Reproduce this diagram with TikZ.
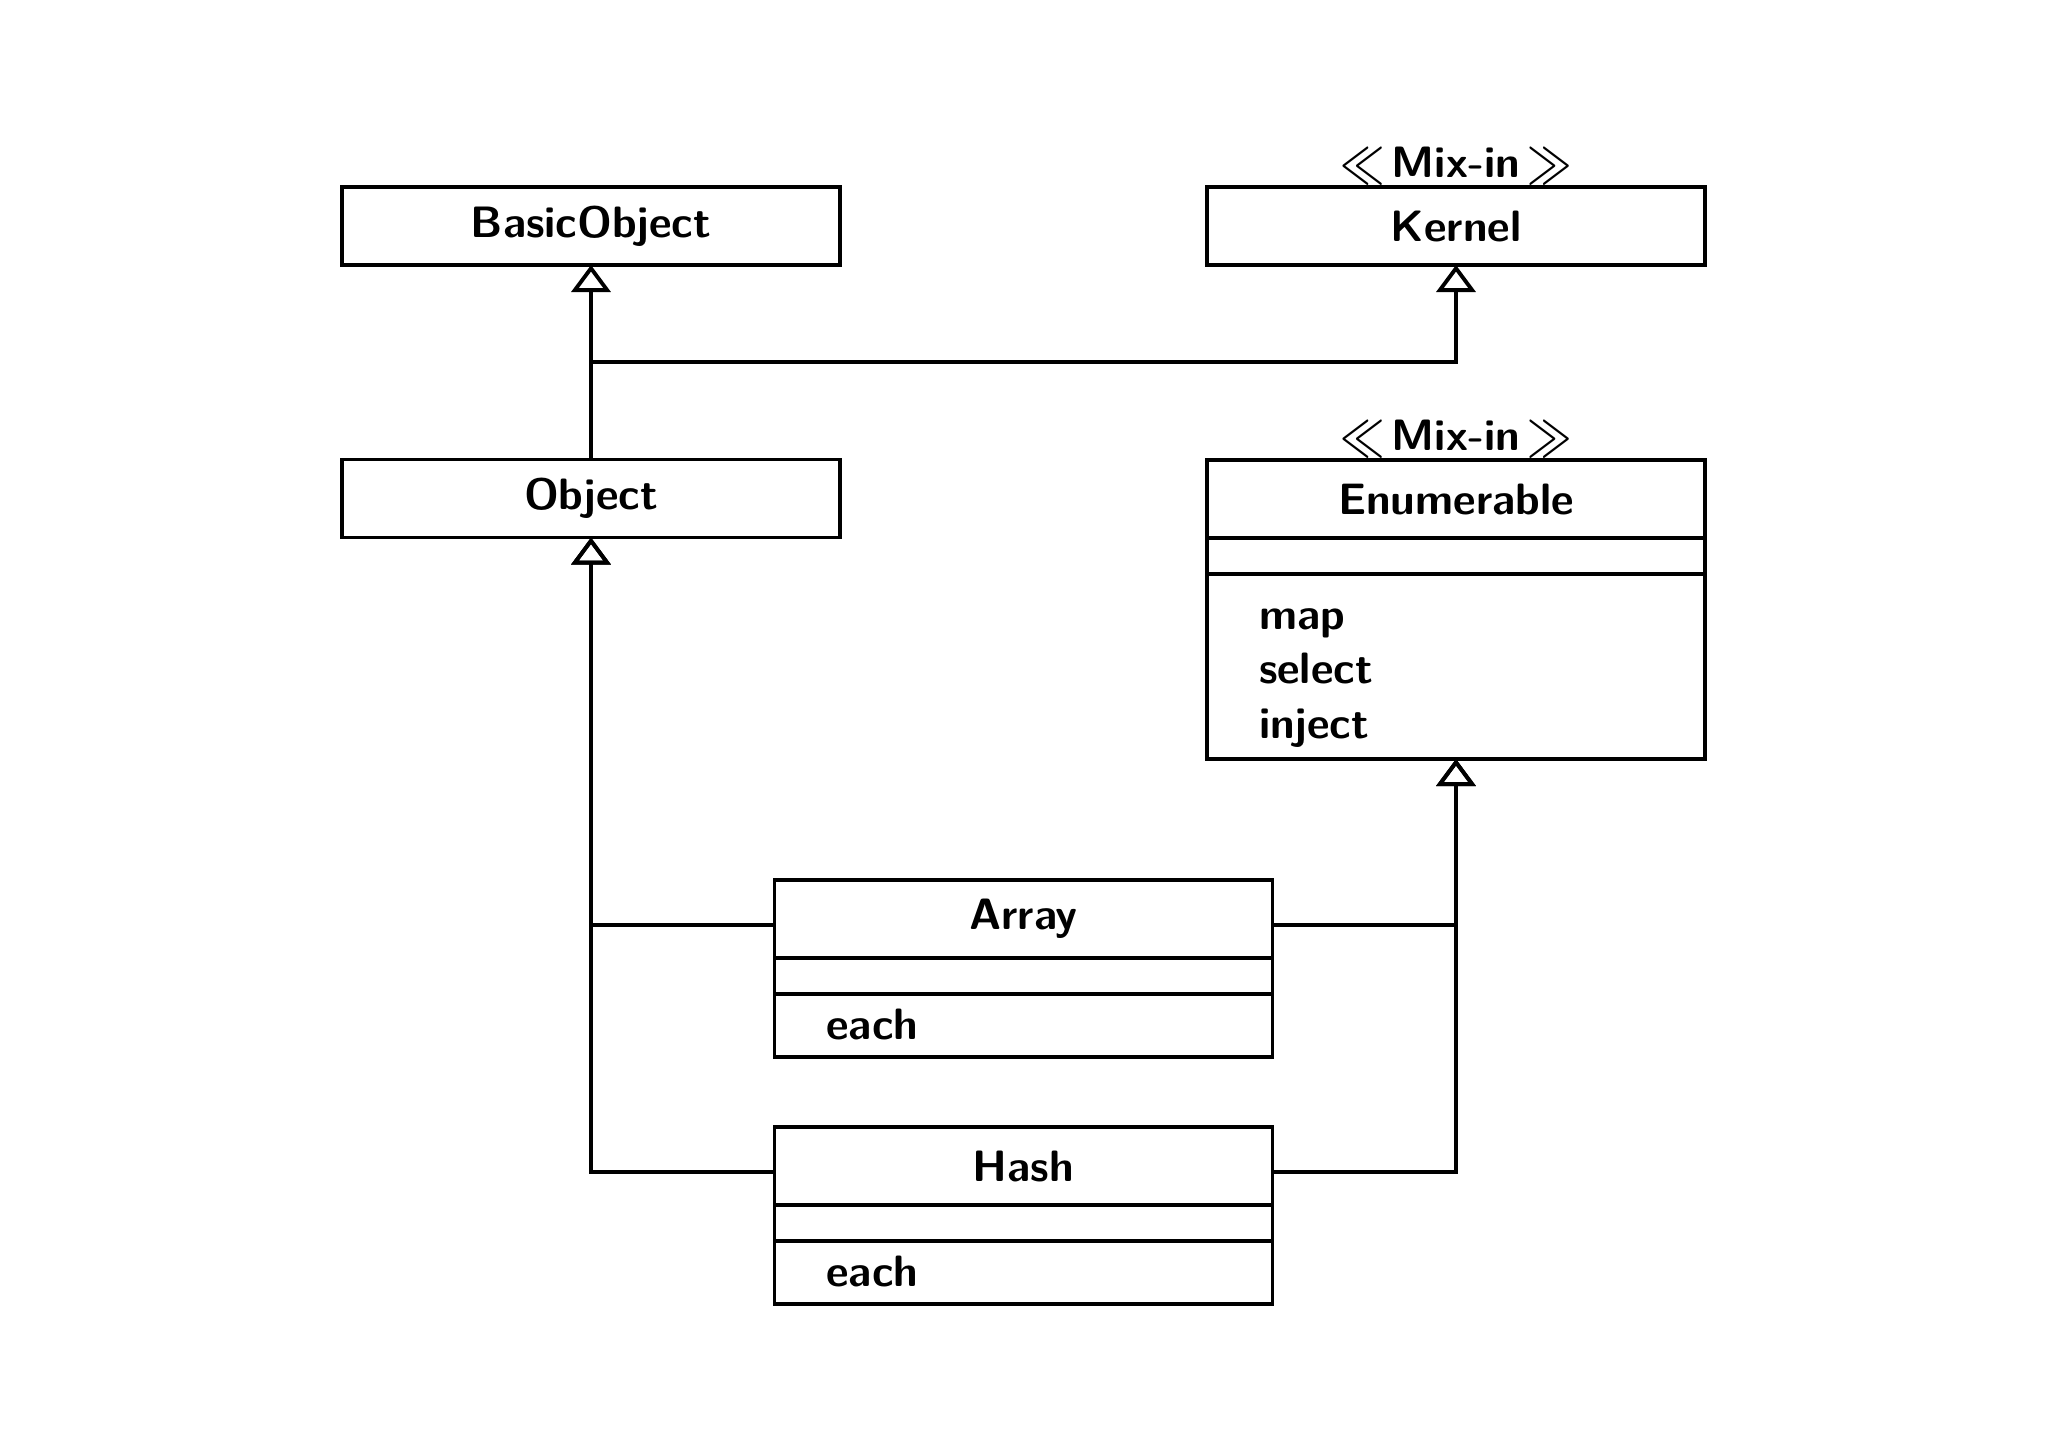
\documentclass[tikz,border=0pt]{standalone}
\usetikzlibrary{positioning,arrows.meta,calc}

\newcommand{\stereotype}[1]{$\vcenter{\hbox{\scalebox{1.05}[1.45]{$\ll$}}}$\,#1\,$\vcenter{\hbox{\scalebox{1.05}[1.45]{$\gg$}}}$}

\begin{document}
\begin{tikzpicture}[
  every node/.style={font=\sffamily\bfseries\fontsize{12.5}{15.6}\selectfont},
  classbox/.style={draw, line width=1.1pt, outer sep=0pt},
  classhead/.style={classbox, minimum width=4.98cm, minimum height=0.78cm, inner sep=0pt},
  classattr/.style={classbox, minimum width=4.98cm, minimum height=0.36cm, inner sep=0pt},
  classops/.style={classbox, text width=3.94cm, inner xsep=0.52cm, inner ysep=0pt, align=left},
  stereo/.style={inner sep=0pt},
  inherit/.style={line width=1.1pt, -{Triangle[open, length=0.27cm, width=0.39cm]}}
]
\useasboundingbox (0,0) rectangle (20.48,-14.48);

% classes
\node[classhead] (basicobject) at (5.91,-2.26) {BasicObject};
\node[classhead] (kernel) at (14.56,-2.26) {Kernel};
\node[stereo, above=0.1cm of kernel, anchor=base] (kernelstereo) {\stereotype{Mix-in}};

\node[classhead] (object) at (5.91,-4.985) {Object};

\node[classhead] (enumerable) at (14.56,-4.99) {Enumerable};
\node[stereo, above=0.1cm of enumerable, anchor=base] (enumstereo) {\stereotype{Mix-in}};
\node[classattr, below=0pt of enumerable] (enumattr) {};
\node[classops, text height=0.55cm, text depth=1.30cm, below=0pt of enumattr] (enumops) {map\\select\\inject};

\node[classhead] (array) at (10.235,-9.19) {Array};
\node[classattr, below=0pt of array] (arrayattr) {};
\node[classops, text height=0.45cm, text depth=0.18cm, below=0pt of arrayattr] (arrayops) {each};

\node[classhead] (hash) at (10.235,-11.66) {Hash};
\node[classattr, below=0pt of hash] (hashattr) {};
\node[classops, text height=0.45cm, text depth=0.18cm, below=0pt of hashattr] (hashops) {each};

% inheritance
\draw[inherit] (object.north) -- (basicobject.south);
\draw[inherit] ($(object.north)!0.5!(basicobject.south)$) -| (kernel.south);
\draw[inherit] ([yshift=-0.06cm]array.west) -| (object.south);
\draw[inherit] ([yshift=-0.06cm]hash.west) -| (object.south);
\draw[inherit] ([yshift=-0.06cm]array.east) -| (enumops.south);
\draw[inherit] ([yshift=-0.06cm]hash.east) -| (enumops.south);
\end{tikzpicture}
\end{document}
